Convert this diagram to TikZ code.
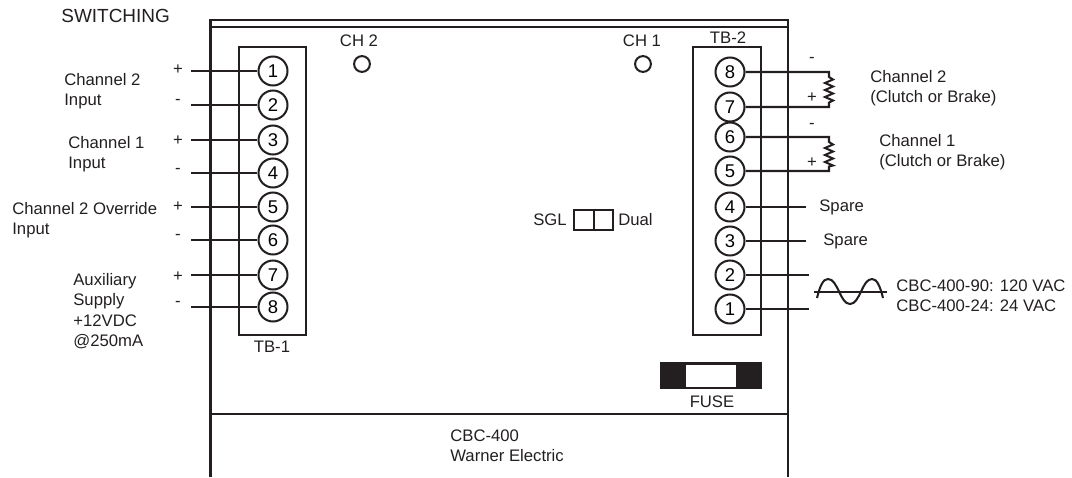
\documentclass[tikz,border=0pt]{standalone}
\usepackage{fontspec}
\setmainfont{Liberation Sans}
\definecolor{wirecolor}{RGB}{35,31,32}
\tikzset{
    wire/.style={wirecolor, line width=1.15pt},
    blockbox/.style={draw=wirecolor, line width=1.15pt, minimum width=38.3pt, minimum height=164.4pt, inner sep=0pt},
    terminal/.style={circle, draw=wirecolor, line width=1.15pt, fill=white, minimum size=16.5pt, inner sep=0pt, font=\fontsize{10.5}{10.5}\selectfont},
    lamp/.style={circle, draw=wirecolor, line width=1.15pt, minimum size=9pt, inner sep=0pt},
    label/.style={text=wirecolor, align=left, inner sep=0pt, font=\fontsize{9.5}{11.5}\selectfont},
    sign/.style={text=wirecolor, inner sep=0pt, font=\fontsize{9.5}{9.5}\selectfont}
}

\begin{document}
\begin{tikzpicture}[x=0.02cm, y=-0.02cm]
        \useasboundingbox (0,0) rectangle (1072,477);

        % Draw the case
        \draw[wire] (210.5,477) -- (210.5,20) -- (788,20) -- (788,477);
        \draw[wire] (210.5,27) -- (788,27);
        \draw[wirecolor, line width=1.6pt] (210.5,414) -- (788,414);

        % Terminal blocks
        \node[blockbox] (tbone) at (272.8,191) {};
        \node[blockbox] (tbtwo) at (727,191) {};
        \node[label] (tbonelabel) at (272,347) {TB-1};
        \node[label] (tbtwolabel) at (728,38) {TB-2};

        % Terminals of TB-1, with their wires
        \foreach \num/\ypos/\sgn/\sgnpos in {1/71/+/70,2/105/-/102,3/140/+/141,4/173/-/171,5/207/+/207,6/240/-/237,7/275/+/277,8/307/-/304} {
            \node[terminal] (left\num) at (273,\ypos) {\num};
            \coordinate (leftend\num) at (191,\ypos);
            \draw[wire] (leftend\num) -- (left\num);
            \node[sign] (leftsign\num) at (178,\sgnpos) {\sgn};
        }

        % Terminals of TB-2
        \foreach \num/\ypos in {8/72,7/107,6/137,5/171,4/207,3/241,2/275,1/309} {
            \node[terminal] (right\num) at (730,\ypos) {\num};
        }

        % Coils
        \coordinate (coiltwotop) at (829,72);
        \coordinate (coiltwobot) at (829,107);
        \coordinate (coilonetop) at (829,137);
        \coordinate (coilonebot) at (829,171);
        \draw[wire] (right8) -- (coiltwotop) -- ++(0,5) -- ++(4,2.5) -- ++(-8,3.5) -- ++(8,3.5) -- ++(-8,3.5) -- ++(8,3.5) -- ++(-8,3.5) -- ++(8,3.5) -- ++(-4,2) -- (coiltwobot) -- (right7);
        \draw[wire] (right6) -- (coilonetop) -- ++(0,5) -- ++(4,2.5) -- ++(-8,3.5) -- ++(8,3.5) -- ++(-8,3.5) -- ++(8,3.5) -- ++(-8,3.5) -- ++(8,3.5) -- ++(-4,1) -- (coilonebot) -- (right5);
        \node[sign] (minustwo) at (812,60) {-};
        \node[sign] (plustwo) at (812,98) {+};
        \node[sign] (minusone) at (812,126) {-};
        \node[sign] (plusone) at (812,163) {+};

        % Spare and supply wires
        \coordinate (spareend4) at (806,207);
        \coordinate (spareend3) at (806,241);
        \coordinate (supplyend2) at (809,275);
        \coordinate (supplyend1) at (809,309);
        \draw[wire] (right4) -- (spareend4);
        \draw[wire] (right3) -- (spareend3);
        \draw[wire] (right2) -- (supplyend2);
        \draw[wire] (right1) -- (supplyend1);

        % Sine symbol
        \draw[wire] (814,292) -- (887,292);
        \draw[wire] (817,298) .. controls (820,286) and (823,279) .. (828,279) .. controls (838,279) and (840,304) .. (850,304) .. controls (860,304) and (862,279) .. (872,279) .. controls (877,279) and (880,286) .. (883,298);

        % Lamps
        \node[lamp] (lamptwo) at (362,64) {};
        \node[lamp] (lampone) at (643,64) {};
        \node[label] (chtwo) at (359,41) {CH 2};
        \node[label] (chone) at (642,41) {CH 1};

        % Switch
        \draw[wire] (574,210) rectangle (613,230);
        \draw[wire] (594,210) -- (594,230);
        \node[label, anchor=east] (sgl) at (567,220) {SGL};
        \node[label, anchor=west] (dual) at (618,220) {Dual};

        % Fuse
        \fill[wirecolor] (660,362) rectangle (762,389);
        \fill[white] (686,364.5) rectangle (736,386.5);
        \node[label] (fuse) at (712,402) {FUSE};

        % Left labels
        \node[label, anchor=west, font=\fontsize{10.8}{12}\selectfont] (switching) at (61,16) {SWITCHING};
        \node[label, anchor=west] (chtwoin) at (64,91) {Channel 2\\Input};
        \node[label, anchor=west] (choneinput) at (68,154) {Channel 1\\Input};
        \node[label, anchor=west] (override) at (12,220.5) {Channel 2 Override\\Input};
        \node[label, anchor=west] (aux) at (73,311) {Auxiliary\\Supply\\+12VDC\\@250mA};

        % Right labels
        \node[label, anchor=west] (chtwoout) at (870,88.5) {Channel 2\\(Clutch or Brake)};
        \node[label, anchor=west] (choneout) at (879,152.5) {Channel 1\\(Clutch or Brake)};
        \node[label, anchor=west] (sparefour) at (819,207) {Spare};
        \node[label, anchor=west] (sparethree) at (823,241) {Spare};
        \node[label, anchor=west] (models) at (896,295.5) {CBC-400-90: 120 VAC\\CBC-400-24: 24 VAC};

        % Bottom label
        \node[label, anchor=west] (product) at (450,445.5) {CBC-400\\Warner Electric};
    \end{tikzpicture}
\end{document}
